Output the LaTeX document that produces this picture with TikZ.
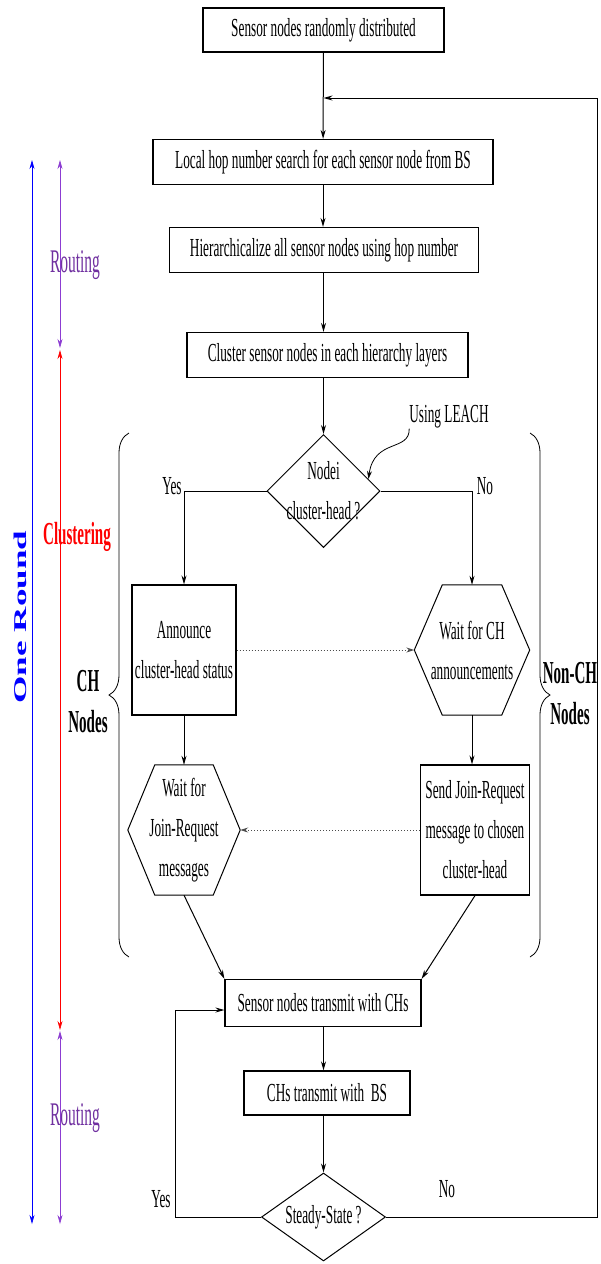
\documentclass[tikz,border=0pt]{standalone}
\usepackage{fontspec}
\setmainfont[FakeStretch=0.51]{Liberation Serif}
\newfontfamily\labelfont[FakeStretch=0.47]{Liberation Serif}
\newfontfamily\roundfont[FakeStretch=1.95]{Liberation Serif}
\usetikzlibrary{arrows.meta,shapes.geometric,decorations.pathreplacing}
\definecolor{routecol}{RGB}{112,48,160}
\definecolor{routeline}{RGB}{140,60,210}
\tikzset{
  stepbox/.style={draw,line width=1.2pt,inner sep=0pt,align=center,font=\fontsize{26}{40}\selectfont},
  steptext/.style={inner sep=0pt,align=center,font=\fontsize{26}{40}\selectfont},
  decision/.style={draw,diamond,line width=1pt,inner sep=0pt},
  flow/.style={line width=1pt,-{Stealth[length=9pt,width=5pt]}},
  hint/.style={dotted,line width=1pt,black!70,-{Stealth[length=8pt,width=5pt]}},
  span/.style={line width=0.7pt,{Stealth[length=9pt,width=5pt]}-{Stealth[length=9pt,width=5pt]}},
  sidelabel/.style={align=center,font=\labelfont\fontsize{32}{41}\selectfont\bfseries},
  brace/.style={line width=0.8pt,decorate,decoration={brace,amplitude=20pt}}
}
\begin{document}
\begin{tikzpicture}[x=1pt,y=-1pt]
  \useasboundingbox (0,0) rectangle (600,1264);
  \node[stepbox,minimum width=241pt,minimum height=44pt] (start) at (323.5,30) {Sensor nodes randomly distributed};
  \node[stepbox,minimum width=340pt,minimum height=45pt] (hopsearch) at (323,162) {Local hop number search for each sensor node from BS};
  \node[stepbox,minimum width=309pt,minimum height=45pt] (hier) at (324,250) {Hierarchicalize all sensor nodes using hop number};
  \node[stepbox,minimum width=281pt,minimum height=45pt] (cluster) at (327.5,355) {Cluster sensor nodes in each hierarchy layers};
  \node[decision,minimum width=113pt,minimum height=113pt] (isch) at (323.5,491) {};
  \node[steptext] (ischtext) at (isch) {Nodei\\cluster-head ?};
  \node[steptext] (leach) at (449,417) {Using LEACH};
  \node[stepbox,minimum width=104pt,minimum height=130pt] (announce) at (184,650) {Announce\\cluster-head status};
  \node[steptext,minimum width=115pt,minimum height=130pt] (waitch) at (472,650) {Wait for CH\\announcements};
  \node[steptext,minimum width=112pt,minimum height=130pt] (waitjr) at (184,830) {Wait for\\Join-Request\\messages};
  \node[stepbox,minimum width=109pt,minimum height=130pt] (sendjr) at (475,830) {Send Join-Request\\message to chosen\\cluster-head};
  \node[stepbox,minimum width=196pt,minimum height=47pt] (transmit) at (323,1003) {Sensor nodes transmit with CHs};
  \node[stepbox,minimum width=166pt,minimum height=44pt] (chbs) at (327,1093) {CHs transmit with~ BS};
  \node[decision,minimum width=124pt,minimum height=88pt] (steady) at (323.5,1217) {};
  \node[steptext] (steadytext) at (steady) {Steady-State ?};

  \draw[line width=1pt] (waitch.west) -- ([xshift=28pt]waitch.north west) -- ([xshift=-28pt]waitch.north east)
    -- (waitch.east) -- ([xshift=-28pt]waitch.south east) -- ([xshift=28pt]waitch.south west) -- cycle;
  \draw[line width=1pt] (waitjr.west) -- ([xshift=27pt]waitjr.north west) -- ([xshift=-27pt]waitjr.north east)
    -- (waitjr.east) -- ([xshift=-27pt]waitjr.south east) -- ([xshift=27pt]waitjr.south west) -- cycle;

  \node[steptext] (yesa) at (172,486) {Yes};
  \node[steptext] (noa) at (485,486) {No};
  \node[steptext] (yesb) at (161,1199) {Yes};
  \node[steptext] (nob) at (447,1189) {No};

  \coordinate (loopin) at (323.5,98);
  \coordinate (loopright) at (597,98);
  \coordinate (yesup) at (175,1010);

  \draw[flow] (start) -- (hopsearch);
  \draw[flow] (hopsearch) -- (hopsearch |- hier.north);
  \draw[flow] (hier.south -| start) -- (cluster.north -| start);
  \draw[flow] (cluster.south -| start) -- (isch);
  \draw[flow] (isch.west) -| (announce.north);
  \draw[flow] (isch.east) -| (waitch.north);
  \draw[hint] (announce.east) -- (waitch.west);
  \draw[flow] (announce) -- (waitjr);
  \draw[flow] (waitch.south) -- (sendjr.north -| waitch.south);
  \draw[hint] (sendjr.west) -- (waitjr.east);
  \draw[flow] (waitjr.south) -- (transmit.north west);
  \draw[flow] (sendjr.south) -- (transmit.north east);
  \draw[flow] (transmit.south -| steady) -- (chbs.north -| steady);
  \draw[flow] (chbs.south -| steady) -- (steady);
  \draw[flow] (steady.west) -| (yesup) -- (yesup -| transmit.west);
  \draw[flow] (steady.east) -| (loopright) -- (loopin);
  \draw[line width=0.8pt,-{Stealth[length=8pt,width=5pt]}] (leach.south west) .. controls (410,452) and (374,438) .. (isch.15);

  \draw[brace] (129,957) -- (129,433);
  \draw[brace] (530,433) -- (530,957);
  \node[sidelabel] (chnodes) at (88,702) {CH\\Nodes};
  \node[sidelabel] (nonchnodes) at (570,694) {Non-CH\\Nodes};

  \coordinate (roundtop) at (32,160);
  \coordinate (roundbot) at (32,1224);
  \coordinate (routeatop) at (60,160);
  \coordinate (routeabot) at (60,348);
  \coordinate (clustop) at (60,350);
  \coordinate (clusbot) at (60,1030);
  \coordinate (routebtop) at (60,1031);
  \coordinate (routebbot) at (60,1224);
  \draw[span,blue] (roundtop) -- (roundbot);
  \draw[span,routeline] (routeatop) -- (routeabot);
  \draw[span,red] (clustop) -- (clusbot);
  \draw[span,routeline] (routebtop) -- (routebbot);
  \node[text=blue,rotate=90,font=\roundfont\fontsize{18}{18}\selectfont\bfseries] (oneround) at (20,617) {One Round};
  \node[text=routecol,font=\labelfont\fontsize{33}{33}\selectfont] (routinga) at (75,265) {Routing};
  \node[text=red,font=\labelfont\fontsize{32}{32}\selectfont\bfseries] (clustering) at (77,537) {Clustering};
  \node[text=routecol,font=\labelfont\fontsize{33}{33}\selectfont] (routingb) at (75,1118) {Routing};
\end{tikzpicture}
\end{document}
